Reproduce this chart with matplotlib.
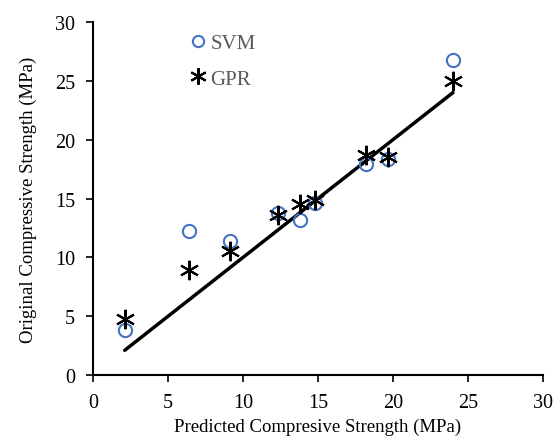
import matplotlib.pyplot as plt

plt.rcParams['font.family'] = ['Liberation Serif', 'DejaVu Serif']

# predicted vs original compressive strength (MPa)
predicted = [2.1, 6.4, 9.1, 12.3, 13.8, 14.8, 18.2, 19.7, 24.0]
svm_orig = [3.8, 12.25, 11.35, 13.8, 13.15, 14.65, 17.9, 18.4, 26.8]
gpr_orig = [4.75, 8.95, 10.55, 13.6, 14.55, 14.9, 18.7, 18.5, 24.95]
fit_x = [2.1, 24.0]
fit_y = [2.1, 24.0]

fig = plt.figure(figsize=(5.55, 4.39), dpi=100)
ax = fig.add_axes([0.168, 0.1435, 0.81, 0.804])

ax.plot(fit_x, fit_y, color='black', linewidth=2.5, solid_capstyle='round', zorder=1)
ax.plot(predicted, svm_orig, linestyle='none', marker='o', markersize=9.5,
        markerfacecolor='none', markeredgecolor='#4472C4', markeredgewidth=1.5,
        label='SVM', zorder=2)
ax.plot(predicted, gpr_orig, linestyle='none', marker=(6, 2, 0), markersize=14,
        color='black', markeredgewidth=1.5, label='GPR', zorder=3)

ax.set_xlim(0, 30)
ax.set_ylim(0, 30)
ax.set_xticks(range(0, 31, 5))
ax.set_yticks(range(0, 31, 5))
ax.spines['top'].set_visible(False)
ax.spines['right'].set_visible(False)
ax.spines['left'].set_linewidth(1.5)
ax.spines['bottom'].set_linewidth(1.5)
ax.tick_params(direction='out', length=5, width=1.2, labelsize=14.5, pad=8)

ax.set_xlabel('Predicted Compresive Strength (MPa)', fontsize=13.5, labelpad=4)
ax.set_ylabel('Original Compressive Strength (MPa)', fontsize=13.5, labelpad=13)

leg = ax.legend(loc='upper left', bbox_to_anchor=(0.2, 0.99), frameon=False,
                fontsize=15, handlelength=0.6, handletextpad=0.3, markerscale=0.85,
                labelspacing=0.75, borderaxespad=0)
for t in leg.get_texts():
    t.set_color('#595959')

fig.savefig('out.png', dpi=100)
